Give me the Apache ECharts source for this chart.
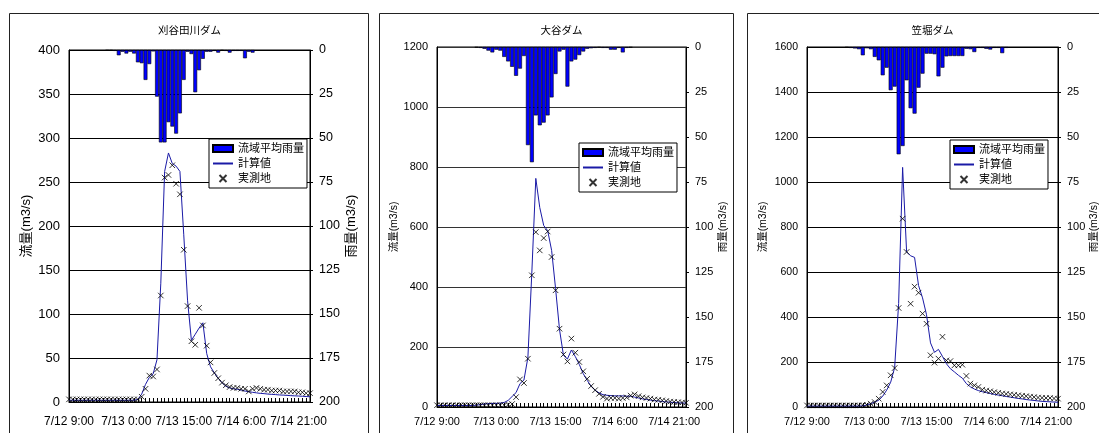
<!DOCTYPE html>
<html>
<head>
<meta charset="utf-8">
<script src="https://cdn.jsdelivr.net/npm/echarts@6/dist/echarts.min.js"></script>
<style>
  html, body { margin: 0; padding: 0; background: #fff; }
  #chart { width: 1099px; height: 433px; }
</style>
</head>
<body>
<div id="chart"></div>
<script>
// Hourly time axis: 7/12 9:00 through 7/15 0:00 (64 hours)
const startDay = 12;
const startHour = 9;
const hourCount = 64;
const hours = Array.from({ length: hourCount }, (_, i) => {
  const t = startHour + i;
  return '7/' + (startDay + Math.floor(t / 24)) + ' ' + (t % 24) + ':00';
});

const damNames = ['刈谷田川ダム', '大谷ダム', '笠堀ダム'];
const seriesNames = ['流域平均雨量', '計算値', '実測地'];
const flowAxisName = '流量(m3/s)';
const rainAxisName = '雨量(m3/s)';
const flowMax = [400, 1200, 1600];
const flowStep = [50, 200, 200];
const rainMax = 200;
const rainStep = 25;

// 刈谷田川ダム
const rain1 = [0,0,0,0,0,0,0,0,0,0, 0.3,0.3,0.5,3,1,2,1,2,7,7.5,
  17,8,0.8,26.5,52.5,52.5,41,43.5,47.5,36, 17,1,2.3,24,11.5,5,1,1,0.5,1.5,
  0.3,0.5,1.5,0.5,0.5,0.5,4.7,1,1.5,0, 0,0,0,0,0,0,0,0,0,0, 0,0,0,0];
const calc1 = [2,2,2,2,2,2,2,2,2,2, 2,2,2,2,2,2,2,2,3,9,
  20,28,32,48,135,262,283,271,268,262, 190,115,70,77,84,90,55,40,33,27,
  22,18,16,15,14.4,13.6,12.5,11.7,11,10.4, 9.8,9.5,9,8.7,8.4,8,7.8,7.5,7.2,7, 6.8,6.5,6.2,6];
const obs1 = [3,3,3,3,3,3,3,3,3,3, 3,3,3,3,3,3,3,3,3,6,
  15,30,29,37,121,255,258,269,248,236, 173,109,69,65,107,87,64,45,33,27,
  22,19,17,16,16,15,15,12,15,16, 15,14,14,13,13,13,12,12,12,12, 11,11,10,10];

// 大谷ダム
const rain2 = [0,0,0,0,0,0,0,0,0,0, 0.3,0.5,1,2,3,1.5,2,5.5,8,11,
  16,12,5,54.5,64,38,43.5,42,38,28, 15,2.5,1.5,22,8,7,4.5,2.5,1,0.7,
  0.5,0.3,0.5,0.5,1.5,1.5,0.5,3,0.5,0.3, 0,0,0,0,0,0,0,0,0,0, 0,0,0,0];
const calc2 = [5,5,5,5,5,5,5,5,5,5, 6,8,10,11,12,12,13,15,22,35,
  48,78,90,165,450,762,665,605,588,522, 395,258,172,160,190,168,142,111,89,69,
  56,47,41,39,38,37,37,37,36,36, 33,30,27,25,23,21,20,18,17,16, 15,14,13.5,13];
const obs2 = [6,6,6,6,6,6,6,6,6,6, 6,6,6,6,6,6,6,6,8,10,
  33,92,80,161,439,583,522,563,585,500, 389,261,175,152,228,181,150,119,94,70,
  56,44,34,28,30,30,28,30,32,38, 42,36,32,30,28,25,24,22,20,18, 17,16,15,14];

// 笠堀ダム
const rain3 = [0,0,0,0,0,0,0,0,0,0, 0.3,0.5,0.8,1.2,4.6,0.7,1.2,5.5,7.4,15.7,
  11.5,24,22,59.6,55,18.5,34,37,22.6,14.8, 3.7,3.7,4,16.3,11.5,5.2,5,5,5,5,
  1,1.2,2.8,0.5,0.5,1,1.4,0.5,0.5,3.4, 0.5,0,0,0,0,0,0,0,0,0, 0,0,0,0];
const calc3 = [4,4,4,4,4,4,4,4,4,4, 4,4,4,4,5,9,15,22,30,48,
  75,110,175,460,1065,690,672,665,540,485, 410,285,243,256,225,192,170,156,141,128,
  104,90,80,73,68,64,60,56,53,50, 47,44,41,38,36,33,31,29,27,25, 24,23,22,21];
const obs3 = [7,7,7,7,7,7,7,7,7,7, 7,7,7,7,8,10,15,22,37,67,
  96,141,173,440,837,689,459,535,508,415, 370,230,197,215,312,207,204,185,185,188,
  138,104,96,89,77,73,70,66,63,60, 58,56,54,52,50,48,46,44,42,41, 40,40,38,37];

const rainData = [rain1, rain2, rain3];
const calcData = [calc1, calc2, calc3];
const obsData = [obs1, obs2, obs3];

// Panel geometry and text sizes
const FONT = "'Liberation Sans', Arial, 'Noto Sans CJK JP', sans-serif";
const panels = [
  { grid: { left: 69, top: 50, width: 241, height: 352 }, frame: [9.5, 13.5, 359, 440],
    yFont: 13, rFont: 12.5, xFont: 12, xMargin: 14, nameFont: 13, lGap: 36, rGap: 35,
    legend: { left: 209, top: 139 }, titleY: 31 },
  { grid: { left: 437, top: 47, width: 249, height: 360 }, frame: [379.5, 13.5, 354, 440],
    yFont: 11, rFont: 11, xFont: 11, xMargin: 9, nameFont: 10.5, lGap: 38, rGap: 32,
    legend: { left: 579, top: 143 }, titleY: 31 },
  { grid: { left: 807, top: 47, width: 251, height: 360 }, frame: [747.5, 13.5, 380, 440],
    yFont: 10.5, rFont: 11, xFont: 11, xMargin: 9, nameFont: 10.5, lGap: 39, rGap: 30,
    legend: { left: 950, top: 140 }, titleY: 31 }
];

const crossSymbol = 'path://M0,0L10,10M10,0L0,10';
const plainNumber = v => String(v);

const option = {
  animation: false,
  backgroundColor: '#fff',
  textStyle: { fontFamily: FONT, color: '#000' },
  grid: panels.map(p => Object.assign({
    show: true, borderColor: '#000', borderWidth: 1, backgroundColor: 'transparent',
    containLabel: false, outerBoundsMode: 'none'
  }, p.grid)),
  xAxis: panels.map((p, i) => ({
    type: 'category', gridIndex: i, data: hours, boundaryGap: false,
    axisLine: { lineStyle: { color: '#000', width: 1 } },
    axisTick: { show: true, inside: true, interval: 0, length: 4, lineStyle: { color: '#000' } },
    axisLabel: { interval: 14, fontSize: p.xFont, margin: p.xMargin, color: '#000', fontFamily: FONT },
    splitLine: { show: false }
  })),
  yAxis: panels.flatMap((p, i) => [
    {
      type: 'value', gridIndex: i, position: 'left', min: 0, max: flowMax[i], interval: flowStep[i],
      name: flowAxisName, nameLocation: 'middle', nameRotate: 90, nameGap: p.lGap,
      nameTextStyle: { fontSize: p.nameFont, color: '#000', fontFamily: FONT },
      axisLine: { show: true, lineStyle: { color: '#000' } },
      axisTick: { show: false },
      axisLabel: { fontSize: p.yFont, margin: 9, color: '#000', fontFamily: FONT, formatter: plainNumber },
      splitLine: { show: true, lineStyle: { color: i === 1 ? '#333' : '#000', width: 1 } }
    },
    {
      type: 'value', gridIndex: i, position: 'right', inverse: true, min: 0, max: rainMax, interval: rainStep,
      name: rainAxisName, nameLocation: 'middle', nameRotate: 90, nameGap: p.rGap,
      nameTextStyle: { fontSize: p.nameFont, color: '#000', fontFamily: FONT },
      axisLine: { show: true, lineStyle: { color: '#000' } },
      axisTick: { show: true, length: 3, lineStyle: { color: '#000' } },
      axisLabel: { fontSize: p.rFont, margin: 9, color: '#000', fontFamily: FONT, formatter: plainNumber },
      splitLine: { show: false }
    }
  ]),
  legend: panels.map(p => ({
    left: p.legend.left, top: p.legend.top, orient: 'vertical',
    selectedMode: false,
    backgroundColor: '#fff', borderColor: '#000', borderWidth: 1,
    padding: [3, 3, 3, 3], itemGap: 2, itemWidth: 20, itemHeight: 7,
    textStyle: { fontSize: 11, lineHeight: 13, color: '#000', fontFamily: FONT },
    data: [
      { name: seriesNames[0], icon: 'rect' },
      { name: seriesNames[1], itemStyle: { opacity: 0 } },
      { name: seriesNames[2] }
    ],
    z: 10
  })),
  graphic: [
    ...panels.map(p => ({
      type: 'rect', silent: true, z: 100,
      shape: { x: p.frame[0], y: p.frame[1], width: p.frame[2], height: p.frame[3] },
      style: { fill: 'none', stroke: '#222', lineWidth: 1 }
    })),
    ...panels.map((p, i) => ({
      type: 'text', silent: true,
      x: p.grid.left + p.grid.width / 2, y: p.titleY,
      style: { text: damNames[i], align: 'center', verticalAlign: 'middle',
               fontSize: 10.5, fontFamily: FONT, fill: '#000' }
    }))
  ],
  series: panels.flatMap((p, i) => [
    {
      name: seriesNames[0], type: 'bar', xAxisIndex: i, yAxisIndex: i * 2 + 1,
      data: rainData[i].map(v => (v > 0 ? v : null)),
      barCategoryGap: '0%',
      itemStyle: { color: '#0000ff', borderColor: '#000', borderWidth: 0.6 },
      z: 1
    },
    {
      name: seriesNames[1], type: 'line', xAxisIndex: i, yAxisIndex: i * 2,
      data: calcData[i], symbol: 'none', smooth: false,
      lineStyle: { color: '#1a1aa6', width: 1 },
      itemStyle: { color: '#1a1aa6' },
      z: 3
    },
    {
      name: seriesNames[2], type: 'scatter', xAxisIndex: i, yAxisIndex: i * 2,
      data: obsData[i].map((v, k) => [k, v]),
      symbol: crossSymbol, symbolSize: 5.5,
      itemStyle: { color: 'none', borderColor: '#000', borderWidth: 1 },
      z: 4
    }
  ])
};

const chart = echarts.init(document.getElementById('chart'), null, { renderer: 'canvas' });
chart.setOption(option);
</script>
</body>
</html>
